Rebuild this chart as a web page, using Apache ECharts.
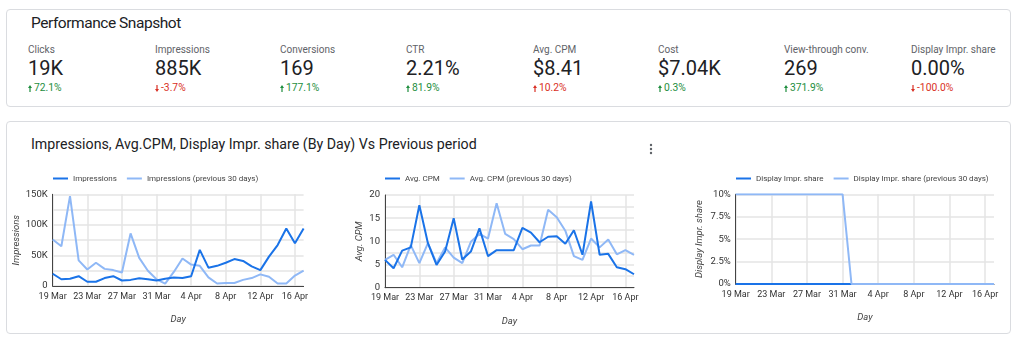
<!DOCTYPE html>
<html>
<head>
<meta charset="utf-8">
<title>Performance Snapshot</title>
<script src="https://cdn.jsdelivr.net/npm/echarts@6/dist/echarts.min.js"></script>
<style>
  html, body { margin: 0; padding: 0; background: #fff; }
  body { width: 1024px; height: 339px; position: relative; overflow: hidden; font-family: Roboto, "Noto Sans", sans-serif; color: #202124; }
  .card { position: absolute; left: 6px; width: 1005px; border: 1px solid #dadce0; border-radius: 4px; background: #fff; box-sizing: border-box; }
  #snap { top: 9px; height: 98px; }
  #trend { top: 121px; height: 213px; }
  .title { position: absolute; left: 24px; white-space: nowrap; }
  #snap .title { top: 4px; font-size: 15.5px; letter-spacing: -0.45px; }
  #trend .title { top: 14px; font-size: 14.2px; }
  .kpi { position: absolute; top: 33px; width: 124px; }
  .kpi .lbl { font-size: 10px; color: #5f6368; line-height: 13px; white-space: nowrap; }
  .kpi .val { font-size: 20px; line-height: 25px; margin-top: 0px; white-space: nowrap; }
  .kpi .dlt { font-size: 10.3px; line-height: 12px; margin-top: 1px; white-space: nowrap; }
  .kpi .dlt svg { vertical-align: -1px; margin-right: 2px; }
  #menu { position: absolute; left: 642px; top: 21px; }
  #chart { position: absolute; left: 0; top: 0; width: 1024px; height: 339px; }
</style>
</head>
<body>
<div class="card" id="snap"><div class="title">Performance Snapshot</div></div>
<div class="card" id="trend">
  <div class="title">Impressions, Avg.CPM, Display Impr. share (By Day) Vs Previous period</div>
  <svg id="menu" width="4" height="12" viewBox="0 0 4 12"><circle cx="2" cy="2" r="1.2" fill="#5f6368"/><circle cx="2" cy="6" r="1.2" fill="#5f6368"/><circle cx="2" cy="10" r="1.2" fill="#5f6368"/></svg>
</div>
<div id="chart"></div>
<script>
// Scorecards
const kpiLabels = ['Clicks', 'Impressions', 'Conversions', 'CTR', 'Avg. CPM', 'Cost', 'View-through conv.', 'Display Impr. share'];
const kpiValues = ['19K', '885K', '169', '2.21%', '$8.41', '$7.04K', '269', '0.00%'];
const kpiDeltas = ['72.1%', '-3.7%', '177.1%', '81.9%', '10.2%', '0.3%', '371.9%', '-100.0%'];
const kpiUp     = [true, false, true, true, true, true, true, false];
const kpiGood   = [true, false, true, true, false, true, true, false];

// Daily series
const days = ['19 Mar', '20 Mar', '21 Mar', '22 Mar', '23 Mar', '24 Mar', '25 Mar', '26 Mar', '27 Mar', '28 Mar',
  '29 Mar', '30 Mar', '31 Mar', '1 Apr', '2 Apr', '3 Apr', '4 Apr', '5 Apr', '6 Apr', '7 Apr',
  '8 Apr', '9 Apr', '10 Apr', '11 Apr', '12 Apr', '13 Apr', '14 Apr', '15 Apr', '16 Apr', '17 Apr'];
const impressions = [20000, 11000, 12000, 16000, 7000, 7000, 13000, 16000, 9000, 10000,
  12500, 11000, 9000, 12000, 14000, 13000, 16000, 59000, 30000, 33000,
  38000, 44000, 41000, 32000, 26000, 48000, 67000, 94000, 70000, 94000];
const impressionsPrev = [76000, 65000, 147000, 42000, 27000, 38000, 28000, 26000, 22000, 86000,
  46000, 25000, 11000, 4000, 23000, 45000, 35000, 33000, 14000, 4000,
  5000, 5000, 10000, 13000, 19000, 15000, 4000, 4000, 17000, 25000];
const avgCpm = [6.0, 4.2, 8.0, 8.7, 17.8, 9.6, 4.9, 7.8, 15.0, 6.1,
  7.8, 12.8, 6.8, 8.1, 8.1, 8.1, 12.9, 11.9, 9.8, 11.0,
  11.1, 9.5, 12.4, 7.1, 18.6, 7.1, 7.3, 4.4, 4.0, 2.9];
const avgCpmPrev = [6.0, 7.1, 4.4, 9.2, 5.3, 9.6, 5.3, 8.7, 6.5, 5.3,
  9.9, 11.6, 10.6, 18.2, 11.6, 10.5, 8.3, 9.1, 9.1, 16.8,
  15.2, 12.3, 6.8, 6.0, 10.6, 8.7, 10.4, 7.2, 8.1, 7.1];
const displayShare = [0, 0, 0, 0, 0, 0, 0, 0, 0, 0, 0, 0, 0, 0, 0, 0, 0, 0, 0, 0, 0, 0, 0, 0, 0, 0, 0, 0, 0, 0];
const displaySharePrev = [10, 10, 10, 10, 10, 10, 10, 10, 10, 10, 10, 10, 10, 0, 0, 0, 0, 0, 0, 0,
  0, 0, 0, 0, 0, 0, 0, 0, 0, 0];

// Build scorecards
const snap = document.getElementById('snap');
const kpiLeft = [21, 148, 273, 399, 526, 651, 777, 904];
kpiLabels.forEach(function (lbl, i) {
  const col = kpiGood[i] ? '#1e8e3e' : '#d93025';
  const arrow = kpiUp[i]
    ? '<svg width="4" height="7" viewBox="0 0 4 7"><path d="M2 0 L4 3 L2.6 3 L2.6 7 L1.4 7 L1.4 3 L0 3 Z" fill="' + col + '"/></svg>'
    : '<svg width="4" height="7" viewBox="0 0 4 7"><path d="M2 7 L4 4 L2.6 4 L2.6 0 L1.4 0 L1.4 4 L0 4 Z" fill="' + col + '"/></svg>';
  const d = document.createElement('div');
  d.className = 'kpi';
  d.style.left = kpiLeft[i] + 'px';
  d.innerHTML = '<div class="lbl">' + lbl + '</div><div class="val">' + kpiValues[i] + '</div>' +
    '<div class="dlt" style="color:' + col + '">' + arrow + kpiDeltas[i] + '</div>';
  snap.appendChild(d);
});

const BLUE = '#1a73e8';
const LIGHT = '#8fb8f6';
const FONT = 'Roboto, sans-serif';
const gridLine = { show: true, lineStyle: { color: '#e4e4e4', width: 1.5 } };

function xAxis(idx) {
  return {
    type: 'category', gridIndex: idx, data: days, boundaryGap: false,
    name: 'Day', nameLocation: 'middle', nameGap: 29,
    nameTextStyle: { fontStyle: 'italic', fontSize: 9.5, color: '#444', fontFamily: FONT },
    axisLine: { show: true, lineStyle: { color: '#444', width: 1 } },
    axisTick: { show: false },
    axisLabel: { interval: 3, fontSize: 9, color: '#333', margin: 6, fontFamily: FONT },
    splitLine: { show: true, interval: 3, lineStyle: { color: '#e4e4e4', width: 1.5 } }
  };
}
function yAxis(idx, name, gap, max, step, labelStep, fmt) {
  return {
    type: 'value', gridIndex: idx, min: 0, max: max, interval: step,
    name: name, nameLocation: 'middle', nameGap: gap,
    nameTextStyle: { fontStyle: 'italic', fontSize: 9.5, color: '#444', fontFamily: FONT },
    axisLine: { show: true, lineStyle: { color: '#444', width: 1 } },
    axisTick: { show: false },
    axisLabel: {
      fontSize: 9.5, color: '#333', margin: 5, fontFamily: FONT,
      formatter: function (v) { return (Math.round(v * 1000) % Math.round(labelStep * 1000) === 0) ? fmt(v) : ''; }
    },
    splitLine: gridLine
  };
}
function legend(left, names) {
  return {
    left: left, top: 174.5, data: names, icon: 'rect', itemWidth: 15, itemHeight: 2, itemGap: 10,
    textStyle: { fontSize: 8, color: '#444', fontFamily: FONT }, padding: 0
  };
}
function line(name, idx, data, color, z) {
  return {
    name: name, type: 'line', xAxisIndex: idx, yAxisIndex: idx, data: data,
    showSymbol: false, symbol: 'none', lineStyle: { color: color, width: 2 }, itemStyle: { color: color },
    z: z, animation: false
  };
}

const chart = echarts.init(document.getElementById('chart'), null, { renderer: 'canvas' });
chart.setOption({
  animation: false,
  textStyle: { fontFamily: FONT },
  grid: [
    { left: 52.7, right: 720.4, top: 194.3, bottom: 53 },
    { left: 385, right: 390, top: 195, bottom: 51.3 },
    { left: 735.7, right: 30, top: 194.3, bottom: 55 }
  ],
  legend: [
    legend(53, ['Impressions', 'Impressions (previous 30 days)']),
    legend(385, ['Avg. CPM', 'Avg. CPM (previous 30 days)']),
    legend(736, ['Display Impr. share', 'Display Impr. share (previous 30 days)'])
  ],
  xAxis: [xAxis(0), xAxis(1), xAxis(2)],
  yAxis: [
    yAxis(0, 'Impressions', 31, 150000, 25000, 50000, function (v) { return v === 0 ? '0' : (v / 1000) + 'K'; }),
    yAxis(1, 'Avg. CPM', 20, 20, 2.5, 5, function (v) { return String(v); }),
    yAxis(2, 'Display Impr. share', 31, 10, 2.5, 2.5, function (v) { return v + '%'; })
  ],
  series: [
    line('Impressions (previous 30 days)', 0, impressionsPrev, LIGHT, 2),
    line('Impressions', 0, impressions, BLUE, 3),
    line('Avg. CPM (previous 30 days)', 1, avgCpmPrev, LIGHT, 2),
    line('Avg. CPM', 1, avgCpm, BLUE, 3),
    line('Display Impr. share', 2, displayShare, BLUE, 3),
    line('Display Impr. share (previous 30 days)', 2, displaySharePrev, LIGHT, 4)
  ]
});
</script>
</body>
</html>
